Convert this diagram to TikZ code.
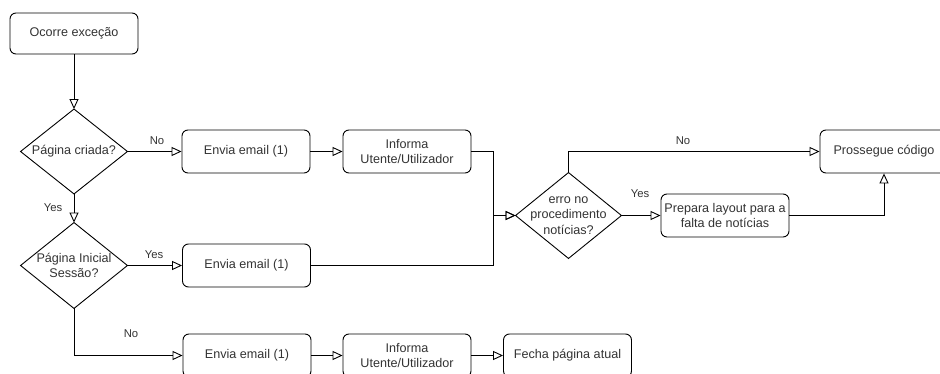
\documentclass[tikz,border=0pt]{standalone}
\usepackage{fontspec}
\setmainfont{Liberation Sans}
\usetikzlibrary{arrows.meta}
\definecolor{txt}{HTML}{333333}
\begin{document}
\begin{tikzpicture}[x=1pt,y=-1pt,
  line width=0.9pt,
  proc/.style={draw, rounded corners=6pt, minimum width=128pt, minimum height=43pt, inner sep=0pt, align=center, text=txt, font=\fontsize{12.6}{15.5}\selectfont},
  dec/.style={minimum width=106pt, minimum height=84pt, inner sep=0pt, align=center, text=txt, font=\fontsize{12.6}{15.5}\selectfont},
  arr/.style={-{Triangle[open,length=10pt,width=9pt]}},
  lbl/.style={text=txt, font=\fontsize{11.3}{13}\selectfont, inner sep=0pt}
]
\useasboundingbox (0,0) rectangle (940,374);
\begin{scope}
\clip (0,0) rectangle (940,374);
\node[proc, minimum height=41pt] (start) at (74,33.5) {Ocorre exceção};
\node[dec] (d1) at (74,151.5) {Página criada?};
\draw (d1.north) -- (d1.east) -- (d1.south) -- (d1.west) -- cycle;
\node[proc] (e1) at (246,151.5) {Envia email (1)};
\node[proc] (i1) at (407,151.5) {Informa\\Utente/Utilizador};
\node[dec, minimum height=85pt] (d2) at (74,265.5) {Página Inicial\\Sessão?};
\draw (d2.north) -- (d2.east) -- (d2.south) -- (d2.west) -- cycle;
\node[proc] (e2) at (246.5,265.5) {Envia email (1)};
\node[proc] (e3) at (247,355.5) {Envia email (1)};
\node[proc] (i2) at (407,355.5) {Informa\\Utente/Utilizador};
\node[proc] (f) at (567.5,355.5) {Fecha página atual};
\node[dec, minimum width=105pt, minimum height=85pt] (d3) at (568.5,215.5) {erro no\\procedimento\\notícias?};
\draw (d3.north) -- (d3.east) -- (d3.south) -- (d3.west) -- cycle;
\node[proc] (p) at (725,215.5) {Prepara layout para a\\falta de notícias};
\node[proc] (pc) at (884,151.5) {Prossegue código};
\coordinate (j) at (493,215.5);

\draw[arr] (start.south) -- (d1.north);
\draw[arr] (d1.east) -- (e1.west);
\node[lbl] (lno1) at (157,141) {No};
\draw[arr] (d1.south) -- (d2.north);
\node[lbl] (lyes1) at (53,208) {Yes};
\draw[arr] (d2.east) -- (e2.west);
\node[lbl] (lyes2) at (154,255) {Yes};
\draw[arr] (d2.south) |- (e3.west);
\node[lbl] (lno2) at (131,334) {No};
\draw[arr] (e1.east) -- (i1.west);
\draw[arr] (i1.east) -| (j) -- (d3.west);
\draw[arr] (e2.east) -| (j) -- (d3.west);
\draw[arr] (e3.east) -- (i2.west);
\draw[arr] (i2.east) -- (f.west);
\draw[arr] (d3.north) |- (pc.west);
\node[lbl] (lno3) at (683,141) {No};
\draw[arr] (d3.east) -- (p.west);
\node[lbl] (lyes3) at (640,194) {Yes};
\draw[arr] (p.east) -| (pc.south);
\end{scope}
\end{tikzpicture}
\end{document}
